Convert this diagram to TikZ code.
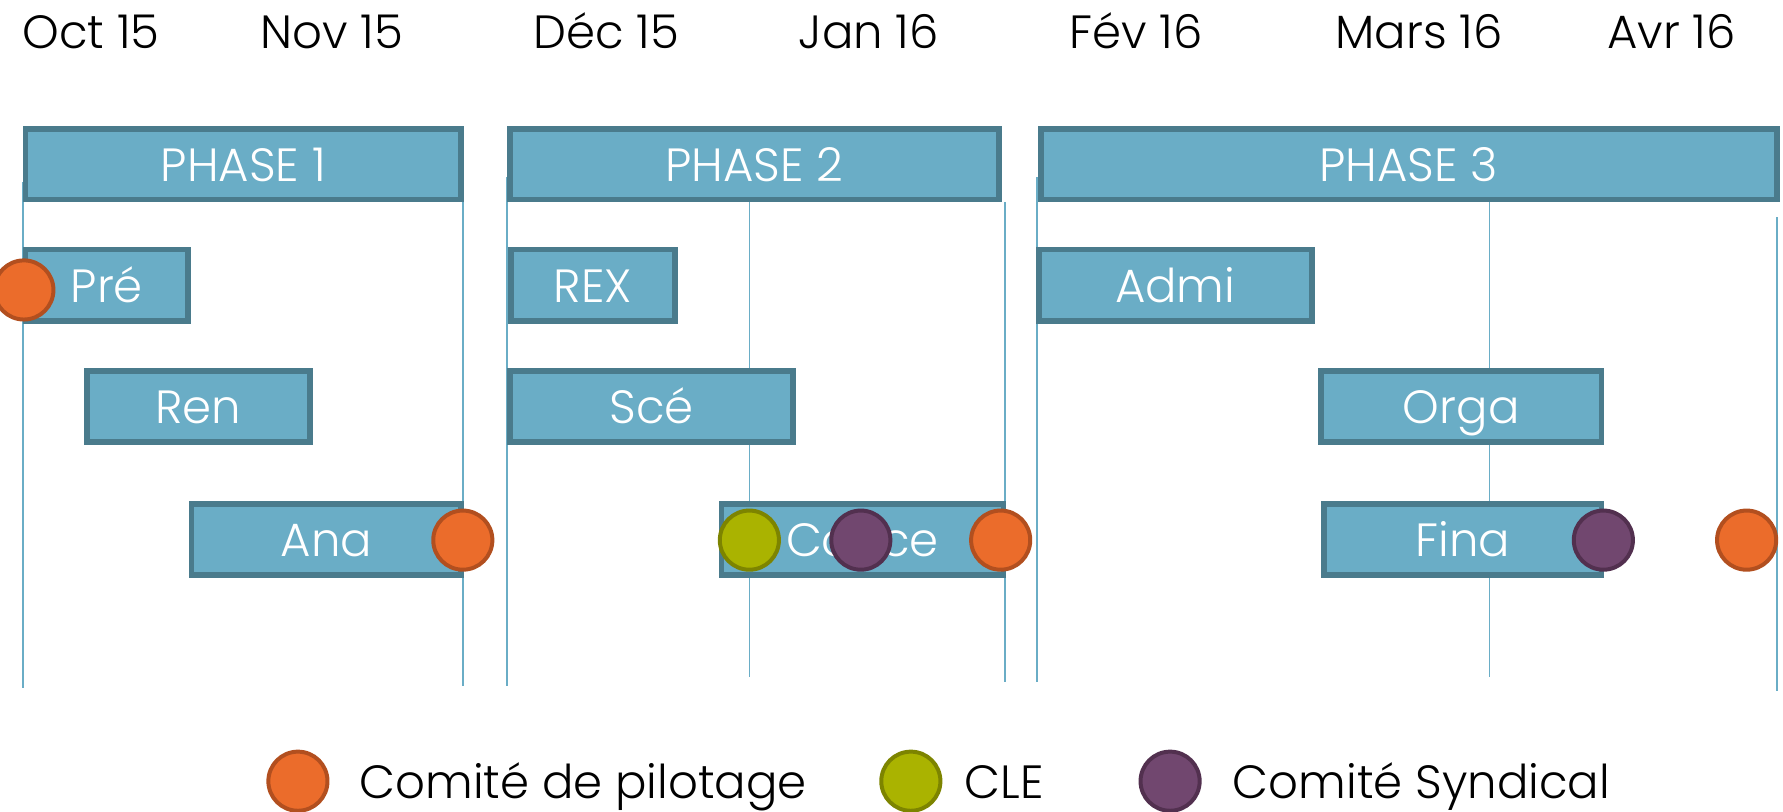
\documentclass[tikz,border=0pt]{standalone}
\usepackage{fontspec}
\setmainfont{Poppins}[UprightFont=* Light]

\definecolor{boxfill}{HTML}{6AADC6}
\definecolor{boxline}{HTML}{4A7B8C}
\definecolor{guideblue}{HTML}{6AADC6}
\definecolor{copilfill}{HTML}{EB6C2B}
\definecolor{copilline}{HTML}{B24F1F}
\definecolor{clefill}{HTML}{AAB300}
\definecolor{cleline}{HTML}{7D8400}
\definecolor{syndicfill}{HTML}{71476F}
\definecolor{syndicline}{HTML}{52304F}

\newcommand{\bigtxt}{\fontsize{41}{49}\selectfont}

\tikzset{
	bar/.style={draw=boxline, fill=boxfill, line width=5pt, text=white, font=\bigtxt, inner sep=0pt, text height=30pt, text depth=0pt},
	guide/.style={draw=guideblue, line width=1.5pt},
	dot/.style={circle, line width=3.5pt, minimum size=52pt, inner sep=0pt},
	copil/.style={dot, fill=copilfill, draw=copilline},
	cle/.style={dot, fill=clefill, draw=cleline},
	syndic/.style={dot, fill=syndicfill, draw=syndicline},
	month/.style={font=\bigtxt, text height=30pt, text depth=0pt, inner sep=0pt},
	legend/.style={month, anchor=west}
}

\begin{document}
\begin{tikzpicture}[x=1pt,y=-1pt]
	\useasboundingbox (0,0) rectangle (1568,714);

	% mois
	\node[month] (oct) at (80,28) {Oct 15};
	\node[month] (nov) at (292,28) {Nov 15};
	\node[month] (dec) at (533,28) {Déc 15};
	\node[month] (jan) at (764,28) {Jan 16};
	\node[month] (fev) at (999,28) {Fév 16};
	\node[month] (mar) at (1248,28) {Mars 16};
	\node[month] (avr) at (1470,28) {Avr 16};

	% reperes
	\draw[guide] (20,160)--(20,605);
	\draw[guide] (407,178)--(407,603);
	\draw[guide] (446,156)--(446,603);
	\draw[guide] (659,178)--(659,595);
	\draw[guide] (884,178)--(884,600);
	\draw[guide] (912,156)--(912,600);
	\draw[guide] (1310,178)--(1310,595);
	\draw[guide] (1563,191)--(1563,608);

	% phases
	\node[bar, minimum width=383pt, minimum height=62pt] (p1) at (214,144.5) {PHASE 1};
	\node[bar, minimum width=430pt, minimum height=62pt] (p2) at (663.5,144.5) {PHASE 2};
	\node[bar, minimum width=647pt, minimum height=62pt] (p3) at (1239,144.5) {PHASE 3};

	% taches
	\node[bar, minimum width=143pt, minimum height=63pt] (pre) at (94,251) {Pré};
	\node[bar, minimum width=144pt, minimum height=63pt] (rex) at (521.5,251) {REX};
	\node[bar, minimum width=240pt, minimum height=63pt] (admi) at (1033.5,251) {Admi};
	\node[bar, minimum width=196pt, minimum height=62pt] (ren) at (174.5,357.5) {Ren};
	\node[bar, minimum width=249pt, minimum height=62pt] (sce) at (573,357.5) {Scé};
	\node[bar, minimum width=247pt, minimum height=62pt] (orga) at (1285,357.5) {Orga};
	\node[bar, minimum width=237pt, minimum height=62pt] (ana) at (287,474.5) {Ana};
	\node[bar, minimum width=248pt, minimum height=62pt] (conce) at (758.5,474.5) {Conce};
	\node[bar, minimum width=244pt, minimum height=62pt] (fina) at (1286.5,474.5) {Fina};

	% reunions
	\node[copil] (r1) at (21,255) {};
	\node[copil] (r2) at (407,475) {};
	\node[cle] (r3) at (659,475) {};
	\node[syndic] (r4) at (757,475) {};
	\node[copil] (r5) at (880,475) {};
	\node[syndic] (r6) at (1410,475) {};
	\node[copil] (r7) at (1536,475) {};

	% legende
	\node[copil] (lg1) at (262,687) {};
	\node[legend] (lt1) at (316,687) {Comité de pilotage};
	\node[cle] (lg2) at (801,687) {};
	\node[legend] (lt2) at (848,687) {CLE};
	\node[syndic] (lg3) at (1029,687) {};
	\node[legend] (lt3) at (1084,687) {Comité Syndical};
\end{tikzpicture}
\end{document}
